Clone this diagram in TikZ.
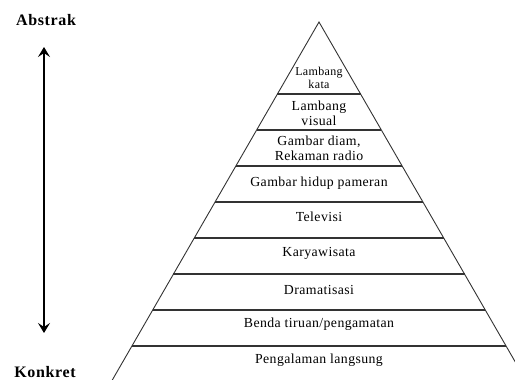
\documentclass[tikz,border=0pt]{standalone}
\usepackage{fontspec}
\usetikzlibrary{arrows.meta}
\setmainfont{Liberation Serif}
\newfontfamily\tierfont[LetterSpace=3]{Liberation Serif}
\newfontfamily\endfont[LetterSpace=4]{Liberation Serif}

\tikzset{
  side/.style={draw=black!80, line width=0.9pt},
  tier/.style={draw=black!80, line width=1.7pt},
  label/.style={inner sep=0pt, align=center, text=black,
    font=\tierfont\fontsize{13.8}{15}\selectfont},
  toplabel/.style={label, font=\tierfont\fontsize{12}{13}\selectfont},
  endlabel/.style={inner sep=0pt, text=black,
    font=\endfont\fontsize{16}{17}\bfseries},
  scale arrow/.style={line width=2pt, black,
    {Stealth[length=10pt,width=12pt,inset=4pt]}-{Stealth[length=10pt,width=12pt,inset=4pt]}}
}

\begin{document}
\begin{tikzpicture}[x=1pt,y=-1pt]
  \useasboundingbox (0,0) rectangle (515,380);
  \clip (0,0) rectangle (515,380);

  % pyramid outline
  \coordinate (apex) at (319,22);
  \coordinate (baseL) at (112.3,380);
  \coordinate (baseR) at (525.7,380);
  \draw[side] (baseL) -- (apex) -- (baseR);

  % tier separators
  \foreach \y in {94,130,166,202,238,274,310,346}
    \draw[tier] ({319-(\y-22)*0.5774},\y) -- ({319+(\y-22)*0.5774},\y);

  % tier labels, top to bottom
  \node[toplabel] (t1) at (319,77.5) {Lambang\\kata};
  \node[label] (t2) at (319,113.5) {Lambang\\visual};
  \node[label] (t3) at (319,148.5) {Gambar diam,\\Rekaman radio};
  \node[label] (t4) at (319,183) {Gambar hidup pameran};
  \node[label] (t5) at (319,217) {Televisi};
  \node[label] (t6) at (319,253) {Karyawisata};
  \node[label] (t7) at (319,290) {Dramatisasi};
  \node[label] (t8) at (319,324) {Benda tiruan/pengamatan};
  \node[label] (t9) at (319,360) {Pengalaman langsung};

  % abstract-concrete scale
  \node[endlabel] (abs) at (46,20) {Abstrak};
  \node[endlabel] (kon) at (45,372) {Konkret};
  \coordinate (upTip) at (44,47);
  \coordinate (downTip) at (44,333);
  \draw[scale arrow] (downTip) -- (upTip);
\end{tikzpicture}
\end{document}
